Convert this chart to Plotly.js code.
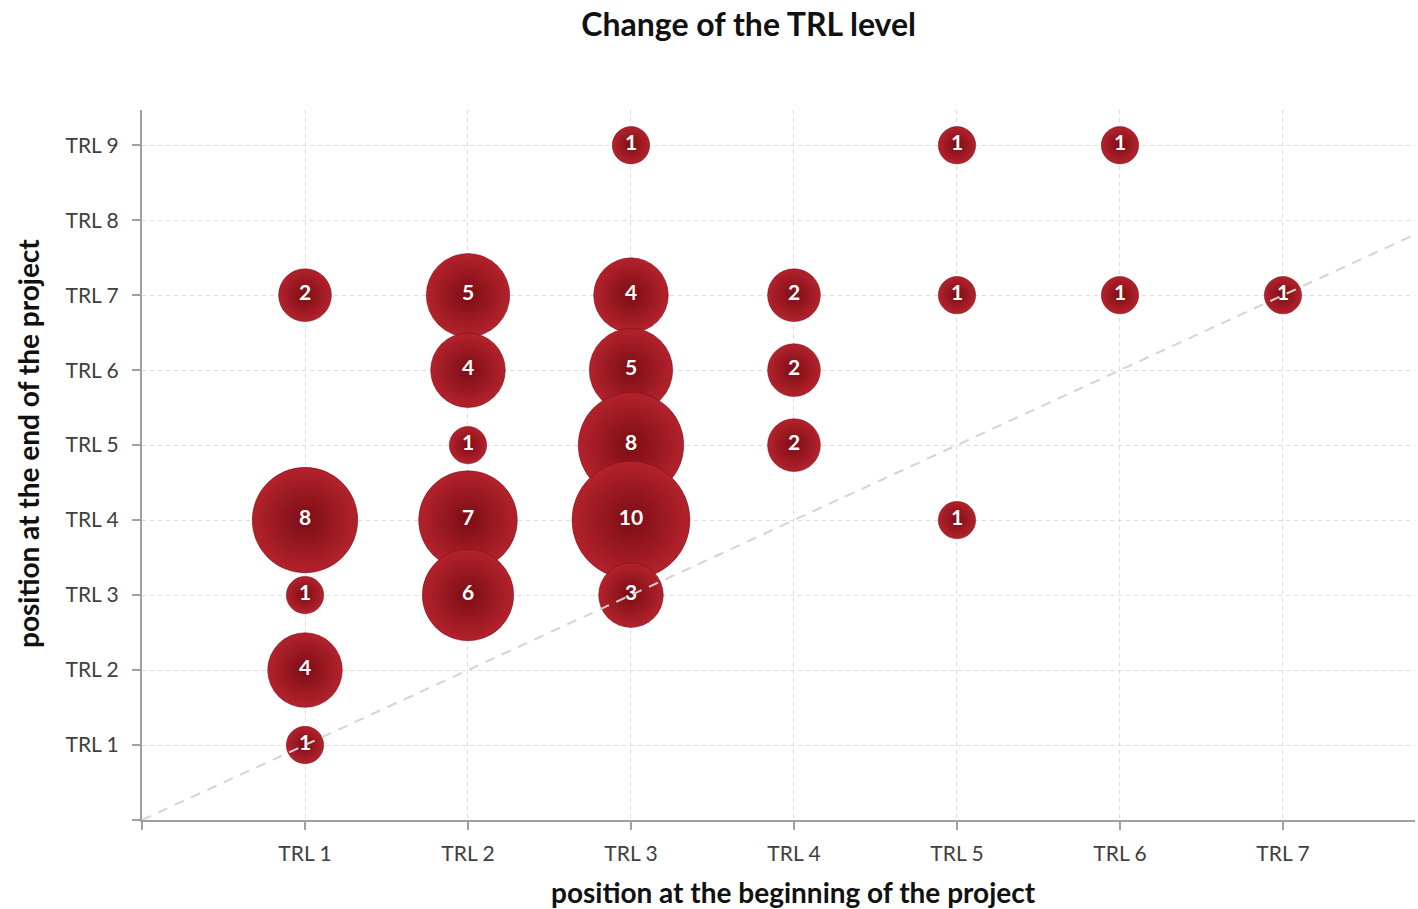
<!DOCTYPE html>
<html>
<head>
<meta charset="utf-8">
<script src="https://cdn.plot.ly/plotly-3.0.1.min.js"></script>
<style>html,body{margin:0;padding:0;background:#fff;}#chart{width:1418px;height:909px;}</style>
</head>
<body>
<div id="chart"></div>
<script>
// Bubble data: start level (x), end level (y), number of projects
const startLevel = [1,1,1,1,1, 2,2,2,2,2, 3,3,3,3,3,3, 4,4,4, 5,5,5, 6,6, 7];
const endLevel   = [7,4,3,2,1, 7,6,5,4,3, 9,7,6,5,4,3, 7,6,5, 9,7,4, 9,7, 7];
const counts     = [2,8,1,4,1, 5,4,1,7,6, 1,4,5,8,10,3, 2,2,2, 1,1,1, 1,1, 1];

const xTickVals = [0,1,2,3,4,5,6,7];
const xTickText = ['', 'TRL 1','TRL 2','TRL 3','TRL 4','TRL 5','TRL 6','TRL 7'];
const yTickVals = [0,1,2,3,4,5,6,7,8,9];
const yTickText = ['', 'TRL 1','TRL 2','TRL 3','TRL 4','TRL 5','TRL 6','TRL 7','TRL 8','TRL 9'];

// reference diagonal (no change line)
const diagX = [0, 7.81];
const diagY = [0, 7.81];

const FONT = 'Lato, "Open Sans", sans-serif';
const maxD = 118;

const bubbles = {
  type: 'scatter',
  mode: 'markers+text',
  x: startLevel,
  y: endLevel,
  text: counts.map(String),
  textposition: 'middle center',
  textfont: {family: FONT, size: 21, color: '#ffffff', weight: 'bold'},
  marker: {
    size: counts,
    sizemode: 'area',
    sizeref: 2 * Math.max(...counts) / (maxD * maxD),
    color: '#b3222c',
    gradient: {type: 'radial', color: '#7c0d15'},
    line: {width: 0.5, color: '#6e0b12'},
    opacity: 1
  },
  hoverinfo: 'x+y+text',
  showlegend: false
};

const diag = {
  type: 'scatter',
  mode: 'lines',
  x: diagX,
  y: diagY,
  line: {color: '#d4d4d4', width: 2, dash: '10px,8px'},
  hoverinfo: 'skip',
  showlegend: false
};

const layout = {
  width: 1418,
  height: 909,
  paper_bgcolor: '#ffffff',
  plot_bgcolor: '#ffffff',
  margin: {l: 142, r: 3, t: 110, b: 89},
  font: {family: FONT, color: '#404040'},
  title: {
    text: '<b>Change of the TRL level</b>',
    font: {family: FONT, size: 32, color: '#111111'},
    x: 0.528, xanchor: 'center',
    y: 0.973, yanchor: 'middle'
  },
  xaxis: {
    range: [0, 7.81],
    tickvals: xTickVals,
    ticktext: xTickText,
    ticks: 'outside',
    ticklen: 8,
    tickcolor: '#a0a0a0',
    tickwidth: 1.5,
    showline: true,
    linecolor: '#a0a0a0',
    linewidth: 2,
    showgrid: true,
    gridcolor: '#dcdcdc',
    griddash: '4px,4px',
    gridwidth: 1,
    zeroline: false,
    tickfont: {family: FONT, size: 21, color: '#404040'},
    ticklabelstandoff: 6
  },
  yaxis: {
    range: [0, 9.47],
    tickvals: yTickVals,
    ticktext: yTickText,
    ticks: 'outside',
    ticklen: 8,
    tickcolor: '#a0a0a0',
    tickwidth: 1.5,
    showline: true,
    linecolor: '#a0a0a0',
    linewidth: 2,
    showgrid: true,
    gridcolor: '#dcdcdc',
    griddash: '4px,4px',
    gridwidth: 1,
    zeroline: false,
    tickfont: {family: FONT, size: 21, color: '#404040'},
    ticklabelstandoff: 9
  },
  annotations: [
    {
      text: '<b>position at the beginning of the project</b>',
      xref: 'paper', yref: 'paper',
      x: (793 - 142) / (1418 - 145), y: -(892 - 820) / (820 - 110),
      xanchor: 'center', yanchor: 'middle',
      showarrow: false,
      font: {family: FONT, size: 28, color: '#111111'}
    },
    {
      text: '<b>position at the end of the project</b>',
      xref: 'paper', yref: 'paper',
      x: -(142 - 28) / (1418 - 145), y: (820 - 444) / (820 - 110),
      xanchor: 'center', yanchor: 'middle',
      textangle: -90,
      showarrow: false,
      font: {family: FONT, size: 28, color: '#111111'}
    }
  ]
};

Plotly.newPlot('chart', [bubbles, diag], layout, {displayModeBar: false, responsive: false});
</script>
</body>
</html>
